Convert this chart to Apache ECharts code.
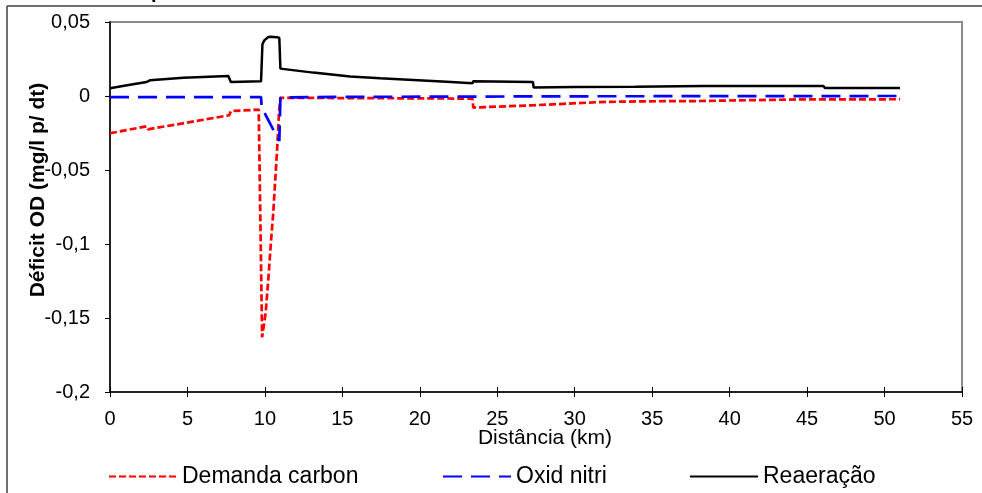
<!DOCTYPE html>
<html>
<head>
<meta charset="utf-8">
<script src="https://cdn.jsdelivr.net/npm/echarts@6/dist/echarts.min.js"></script>
<style>
html,body{margin:0;padding:0;background:#fff;}
#c{width:982px;height:493px;}
</style>
</head>
<body>
<div id="c"></div>
<script>
// ---- data ----
const seriesNames = ['Demanda carbon', 'Oxid nitri', 'Reaeração'];

const carbonKm = [0, 2.35, 2.45, 4.7, 7.7, 7.8, 9.6, 9.72, 9.82, 10.05, 10.22, 10.37, 10.54, 10.67, 10.8, 10.91, 11.0, 15, 20, 23.4, 23.45, 27.3, 31.6, 34.2, 37.9, 38.0, 44.5, 51.0];
const carbonVal = [-0.0252, -0.0205, -0.0225, -0.0185, -0.0130, -0.0102, -0.0092, -0.0095, -0.1630, -0.1464, -0.1239, -0.1014, -0.0788, -0.0563, -0.0338, -0.0112, -0.0012, -0.0014, -0.0016, -0.0018, -0.0078, -0.0063, -0.0041, -0.0036, -0.0034, -0.0028, -0.0023, -0.0022];

const nitriKm = [0, 9.75, 9.79, 10.93, 11.0, 15, 23, 30, 40, 51.0];
const nitriVal = [-0.0007, -0.0007, -0.0078, -0.0304, -0.0010, -0.0006, -0.0004, -0.0002, -0.0001, 0.0000];

const reaerKm = [0, 1.2, 2.37, 2.58, 4.73, 7.64, 7.75, 7.8, 9.75, 9.84, 9.96, 10.22, 10.4, 10.76, 10.93, 11.0, 13.12, 15.5, 17.43, 21.73, 23.4, 23.45, 27.3, 27.35, 30, 33.9, 34.0, 38.3, 46.05, 46.15, 51.0];
const reaerVal = [0.0052, 0.0074, 0.0095, 0.0106, 0.0124, 0.0135, 0.0135, 0.0095, 0.0099, 0.0350, 0.0376, 0.0399, 0.0400, 0.0397, 0.0394, 0.0185, 0.0158, 0.0131, 0.0120, 0.0097, 0.0086, 0.0100, 0.0095, 0.0057, 0.0060, 0.0062, 0.0066, 0.0068, 0.0068, 0.0054, 0.0054];

const xTicks = [0, 5, 10, 15, 20, 25, 30, 35, 40, 45, 50, 55];
const yTicks = [-0.2, -0.15, -0.1, -0.05, 0, 0.05];

function zip(a, b) { return a.map((v, i) => [v, b[i]]); }
function fmtY(v) {
  const r = Math.round(v * 100) / 100;
  return String(r).replace('.', ',');
}

const FONT = 'Liberation Sans, Arial, sans-serif';
const chart = echarts.init(document.getElementById('c'), null, {renderer: 'canvas'});

const legendBase = {
  orient: 'horizontal', top: 460, itemWidth: 68, itemHeight: 24,
  textStyle: {fontFamily: FONT, fontSize: 23, color: '#000'},
  itemStyle: {opacity: 0},
  selectedMode: false
};

chart.setOption({
  animation: false,
  backgroundColor: '#fff',
  grid: {left: 110, right: 20, top: 22, bottom: 101, show: true, borderColor: '#8c8c8c', borderWidth: 2, backgroundColor: 'transparent'},
  legend: [
    Object.assign({}, legendBase, {left: 103, data: [seriesNames[0]]}),
    Object.assign({}, legendBase, {left: 437, data: [seriesNames[1]]}),
    Object.assign({}, legendBase, {left: 684, data: [seriesNames[2]]})
  ],
  xAxis: [{
    type: 'value', min: xTicks[0], max: xTicks[xTicks.length - 1], interval: 5, position: 'bottom',
    axisLine: {show: true, onZero: false, lineStyle: {color: '#000', width: 1.5}},
    axisTick: {show: true, inside: false, length: 5, lineStyle: {color: '#000', width: 1}},
    axisLabel: {fontFamily: FONT, fontSize: 20, color: '#000', margin: 17},
    splitLine: {show: false}
  }, {
    type: 'value', min: xTicks[0], max: xTicks[xTicks.length - 1], interval: 5, position: 'top', offset: -370,
    axisLine: {show: false, onZero: false},
    axisTick: {show: true, inside: false, length: 5, lineStyle: {color: '#000', width: 1}},
    axisLabel: {show: false},
    splitLine: {show: false}
  }],
  yAxis: {
    type: 'value', min: yTicks[0], max: yTicks[yTicks.length - 1], interval: 0.05,
    axisLine: {show: true, onZero: false, lineStyle: {color: '#000', width: 1.5}},
    axisTick: {show: true, inside: false, length: 5, lineStyle: {color: '#000', width: 1}},
    axisLabel: {fontFamily: FONT, fontSize: 20, color: '#000', margin: 20, formatter: fmtY},
    splitLine: {show: false}
  },
  graphic: [
    {type: 'line', shape: {x1: 7, y1: 6, x2: 982, y2: 6}, style: {stroke: '#404040', lineWidth: 1.5}, silent: true},
    {type: 'line', shape: {x1: 7, y1: 6, x2: 7, y2: 493}, style: {stroke: '#404040', lineWidth: 1.5}, silent: true},
    {type: 'text', left: 12, top: -18, style: {text: 'Dados de Campo', font: 'bold 20px ' + FONT, fill: '#000'}, silent: true},
    {type: 'text', x: 38, y: 190, rotation: Math.PI / 2,
      style: {text: 'Déficit OD (mg/l p/ dt)', font: 'bold 21px ' + FONT, fill: '#000', align: 'center', verticalAlign: 'middle'}, silent: true},
    {type: 'text', x: 545, y: 438,
      style: {text: 'Distância (km)', font: '21px ' + FONT, fill: '#000', align: 'center', verticalAlign: 'middle'}, silent: true}
  ],
  series: [
    {name: seriesNames[0], type: 'line', xAxisIndex: 0, data: zip(carbonKm, carbonVal), symbol: 'none', showSymbol: false,
      lineStyle: {color: '#ff0000', width: 2.7, type: [7, 3]}, itemStyle: {color: '#ff0000'}, z: 3},
    {name: seriesNames[1], type: 'line', xAxisIndex: 0, data: zip(nitriKm, nitriVal), symbol: 'none', showSymbol: false,
      lineStyle: {color: '#0000ff', width: 2.7, type: [19, 9]}, itemStyle: {color: '#0000ff'}, z: 4},
    {name: seriesNames[2], type: 'line', xAxisIndex: 0, data: zip(reaerKm, reaerVal), symbol: 'none', showSymbol: false,
      lineStyle: {color: '#000000', width: 2.5}, itemStyle: {color: '#000000'}, z: 5}
  ]
});
</script>
</body>
</html>
